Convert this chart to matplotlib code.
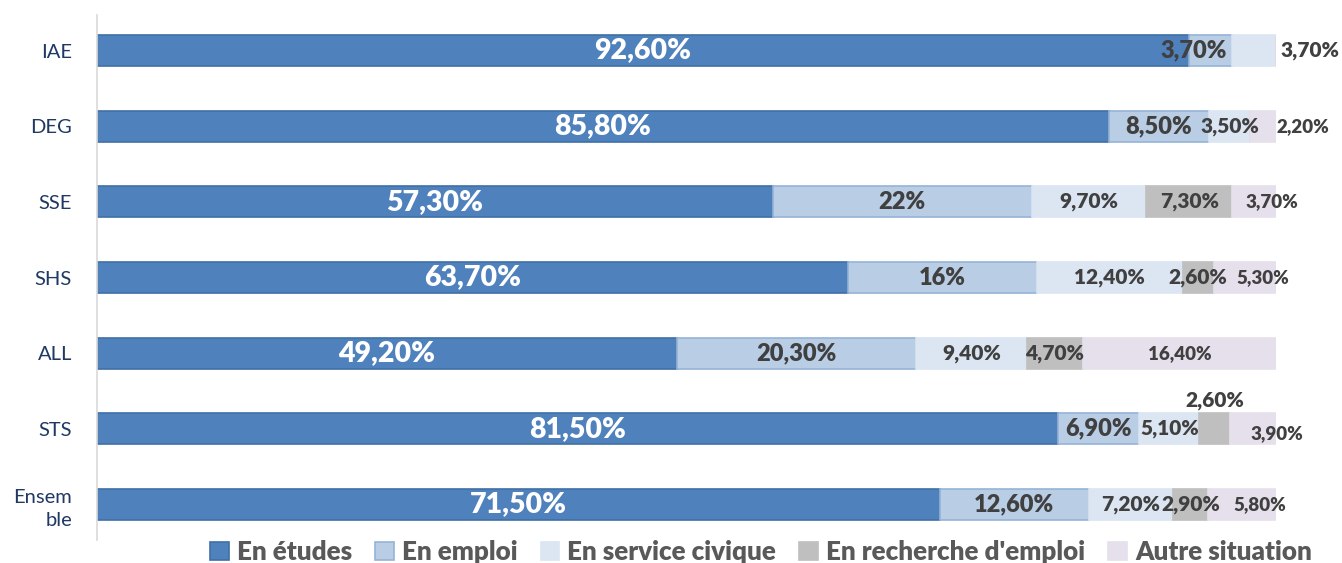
import matplotlib
matplotlib.use("Agg")
import matplotlib.pyplot as plt
import numpy as np

categories = ["IAE", "DEG", "SSE", "SHS", "ALL", "STS", "Ensem\nble"]
series_names = ["En études", "En emploi", "En service civique", "En recherche d'emploi", "Autre situation"]
etudes = [92.6, 85.8, 57.3, 63.7, 49.2, 81.5, 71.5]
emploi = [3.7, 8.5, 22.0, 16.0, 20.3, 6.9, 12.6]
service_civique = [3.7, 3.5, 9.7, 12.4, 9.4, 5.1, 7.2]
recherche = [0.0, 0.0, 7.3, 2.6, 4.7, 2.6, 2.9]
autre = [0.0, 2.2, 3.7, 5.3, 16.4, 3.9, 5.8]
label_texts = [
    ["92,60%", "85,80%", "57,30%", "63,70%", "49,20%", "81,50%", "71,50%"],
    ["3,70%", "8,50%", "22%", "16%", "20,30%", "6,90%", "12,60%"],
    ["3,70%", "3,50%", "9,70%", "12,40%", "9,40%", "5,10%", "7,20%"],
    ["", "", "7,30%", "2,60%", "4,70%", "2,60%", "2,90%"],
    ["", "2,20%", "3,70%", "5,30%", "16,40%", "3,90%", "5,80%"],
]

plt.rcParams['font.family'] = ['Lato', 'DejaVu Sans']

colors = ["#4f81bd", "#b9cde5", "#dce6f2", "#bfbfbf", "#e6e0ec"]
edges = ["#3f6fa6", "#95b3d7", "#dce6f2", "#bfbfbf", "#e6e0ec"]
text_colors = ["white", "#404040", "#404040", "#404040", "#404040"]
font_sizes = [20.5, 17, 15, 15, 13.5]
W = 800

fig = plt.figure(figsize=(13.42, 5.63), dpi=100)
ax = fig.add_axes([97/1342, 1-540/563, (1276-97)/1342, (540-15)/563])

data = [etudes, emploi, service_civique, recherche, autre]
y = np.arange(len(categories))
left = np.zeros(len(categories))
for i, vals in enumerate(data):
    vals = np.array(vals)
    ax.barh(y, vals, left=left, height=0.41, color=colors[i], edgecolor=edges[i],
            linewidth=1.2, label=series_names[i])
    for j, v in enumerate(vals):
        t = label_texts[i][j]
        if not t:
            continue
        cx = left[j] + v / 2
        cy = y[j]
        size = font_sizes[i]
        # special placements
        if i == 2 and j == 0:
            cx = left[j] + v + 2.9; size = 15
        if i == 4 and j == 1:
            cx = left[j] + v + 2.3
        if i == 4 and j in (2, 3, 6):
            cx += 1.5
        if i == 4 and j == 5:
            cx = left[j] + v + 0.1; cy += 0.06
        if i == 3 and j == 5:
            cy -= 0.38
        if i == 1 and j == 0:
            cx -= 1.4
        ax.text(cx, cy, t, ha="center", va="center", color=text_colors[i],
                fontsize=size, fontweight=W, clip_on=False)
    left += vals

ax.set_xlim(0, 100)
ax.set_ylim(6.47, -0.47)
ax.set_yticks(y)
ax.set_yticklabels(categories, fontsize=14.5, color="#1f3864", linespacing=1.4)
ax.tick_params(axis="y", length=0, pad=18)
ax.set_xticks([])
for s in ["top", "right", "bottom"]:
    ax.spines[s].set_visible(False)
ax.spines["left"].set_color("#d9d9d9")
ax.spines["left"].set_linewidth(1.2)

leg = fig.legend(loc="center", bbox_to_anchor=(761/1342, 1-552/563), ncol=5, frameon=False,
                 handlelength=0.72, handleheight=0.72, handletextpad=0.3, columnspacing=0.9,
                 prop={"size": 18.7, "weight": W})
for txt in leg.get_texts():
    txt.set_color("#595959")

fig.savefig("out.png", dpi=100)
